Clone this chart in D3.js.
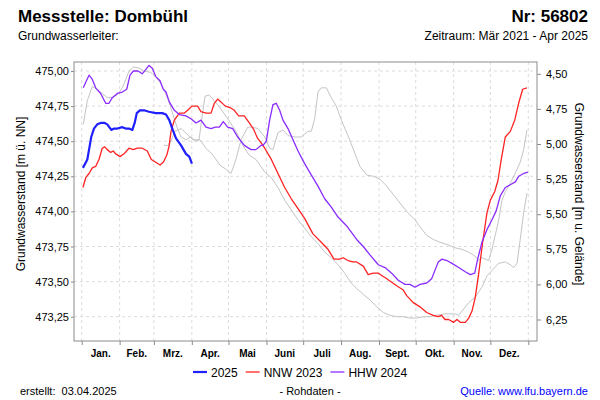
<!DOCTYPE html>
<html><head><meta charset="utf-8">
<script src="https://cdn.jsdelivr.net/npm/d3@7"></script>
<style>
html,body{margin:0;padding:0;background:#fff;}
svg{display:block;font-family:"Liberation Sans",Arial,sans-serif;}
</style></head>
<body><svg id="c" width="600" height="400"></svg>
<script>
// ---------- data ----------
const months = ["Jan.","Feb.","Mrz.","Apr.","Mai","Juni","Juli","Aug.","Sept.","Okt.","Nov.","Dez."];
const leftTicks = [473.25,473.50,473.75,474.00,474.25,474.50,474.75,475.00];
const rightTicks = [4.50,4.75,5.00,5.25,5.50,5.75,6.00,6.25];
const groundLevel = 479.48; // m ü. NN
// [day of year (0 = 1 Jan), level m ü. NN]
const s2025 = [[1,474.31],[4.6,474.37],[6,474.44],[7.8,474.53],[10,474.59],[12.7,474.62],[15.5,474.63],[18.8,474.63],[20.9,474.62],[24.2,474.58],[26.4,474.59],[29.1,474.59],[33.2,474.60],[36,474.59],[38.7,474.59],[41.4,474.58],[43.3,474.63],[45,474.70],[47.6,474.72],[50.9,474.72],[55,474.71],[60.5,474.70],[65.9,474.70],[68.9,474.69],[71.6,474.65],[74.4,474.58],[77.1,474.52],[81.2,474.47],[85.2,474.41],[87.9,474.39],[90.1,474.34]];
const nnw2023 = [[1,474.17],[3.3,474.24],[6,474.27],[8.7,474.31],[11.4,474.32],[14.1,474.37],[16.8,474.45],[18.8,474.46],[20.9,474.44],[23.7,474.42],[25.8,474.43],[27.8,474.41],[31.3,474.39],[34.6,474.41],[38.7,474.45],[42.2,474.44],[45.4,474.45],[49.5,474.45],[53.6,474.43],[56.9,474.37],[60.5,474.35],[64,474.33],[66.7,474.35],[69.5,474.40],[71.3,474.46],[73,474.57],[75.7,474.65],[79.8,474.70],[83.9,474.70],[86.6,474.72],[90.1,474.75],[94.8,474.75],[97.5,474.71],[101.6,474.70],[105.7,474.70],[108.4,474.77],[111.1,474.80],[113.8,474.78],[117.4,474.75],[121.2,474.74],[124.7,474.72],[128.3,474.68],[132.9,474.68],[137,474.63],[140.2,474.59],[143.8,474.52],[146.5,474.49],[149.6,474.45],[155,474.37],[160.4,474.27],[165.9,474.17],[171.3,474.09],[176.8,474.02],[182.2,473.95],[189,473.84],[195.8,473.78],[201.3,473.73],[206.2,473.66],[210.9,473.66],[213.6,473.67],[217.6,473.65],[221.7,473.64],[224.7,473.64],[230.1,473.61],[234.2,473.55],[238.3,473.56],[242.4,473.56],[249.3,473.52],[257.4,473.47],[262.8,473.44],[265.6,473.40],[271,473.35],[276.5,473.32],[282,473.28],[287.3,473.26],[291.4,473.25],[294.2,473.26],[296.9,473.23],[299.9,473.23],[304,473.21],[306.7,473.23],[309.4,473.21],[313.5,473.21],[316.3,473.24],[319,473.29],[321.7,473.39],[324.5,473.56],[327.7,473.78],[331.2,473.99],[334,474.08],[337.5,474.14],[340.2,474.22],[342.9,474.37],[346.2,474.53],[350.3,474.57],[353.9,474.65],[357.1,474.77],[360.4,474.87],[363.9,474.88]];
const hhw2024 = [[1.3,474.88],[3.3,474.92],[6,474.97],[8.7,474.94],[11.4,474.88],[15.5,474.84],[19.6,474.77],[22.3,474.77],[25,474.81],[29.1,474.84],[33.2,474.85],[36.8,474.87],[39.5,474.97],[42.2,475.00],[46,475.00],[49.5,474.98],[52.3,475.01],[55,475.04],[57.7,475.02],[60.5,474.96],[64,474.93],[66.7,474.87],[68.9,474.85],[71.6,474.78],[75.7,474.72],[79.8,474.69],[85.2,474.68],[89.3,474.66],[93.4,474.63],[97.5,474.65],[101.6,474.60],[105.7,474.59],[109.2,474.60],[112.5,474.60],[115.7,474.64],[119.3,474.60],[123.4,474.59],[127.5,474.53],[132.9,474.47],[138.4,474.44],[142.4,474.44],[146.5,474.47],[148.2,474.47],[150.9,474.50],[153.6,474.65],[156.3,474.76],[159,474.77],[161.8,474.72],[164.5,474.65],[168.6,474.59],[172.7,474.51],[176.8,474.43],[182.2,474.34],[187.6,474.26],[193.1,474.18],[198.6,474.09],[204,474.03],[209.5,473.96],[216.2,473.90],[220.5,473.85],[224.7,473.80],[230.1,473.75],[235.6,473.69],[242.4,473.62],[247.9,473.60],[253.3,473.56],[258.7,473.51],[264.2,473.48],[268.3,473.48],[272.4,473.46],[276.5,473.48],[282,473.49],[286,473.52],[288.7,473.58],[291.4,473.64],[294.5,473.66],[298.5,473.65],[302.6,473.63],[308.1,473.60],[313.5,473.57],[317.6,473.55],[321.2,473.56],[323.9,473.67],[327.1,473.78],[331.2,473.87],[335.3,473.94],[338.6,474.00],[342.1,474.11],[346.2,474.17],[350.3,474.19],[354.4,474.21],[357.1,474.25],[361.2,474.27],[364.7,474.28]];
const gray2022 = [[1.3,474.62],[4.6,474.79],[8.7,474.89],[12.7,474.87],[16.8,474.84],[20.9,474.81],[25,474.81],[29.1,474.83],[33.2,474.88],[36,474.94],[38.7,475.00],[42.7,475.03],[46.8,475.02],[50.9,475.00],[56.4,474.99],[60.5,474.96],[64.6,474.91],[68.6,474.84],[71.3,474.78],[74.6,474.69],[77.9,474.60],[81.2,474.53],[85.2,474.51],[89.3,474.53],[93.4,474.50],[96.7,474.51],[101.6,474.45],[107.3,474.40],[113,474.33],[117.9,474.30],[122,474.27],[126.1,474.37],[130.2,474.51],[135.7,474.60],[139.2,474.60],[144.1,474.59],[149.6,474.53],[153.6,474.45],[156.3,474.44],[160.4,474.56],[164.5,474.58],[168.6,474.54],[174.1,474.53],[179.5,474.53],[184.9,474.57],[187.6,474.57],[190.4,474.66],[193.1,474.85],[195.8,474.88],[199.9,474.88],[204,474.81],[208.1,474.75],[212.2,474.65],[217.6,474.54],[223.4,474.41],[227.4,474.32],[232.9,474.26],[238.3,474.25],[243.8,474.23],[249.3,474.18],[254.7,474.12],[260.1,474.06],[265.6,474.00],[272.4,473.94],[276.5,473.89],[282,473.83],[287.3,473.80],[292.8,473.78],[299.9,473.76],[305.3,473.74],[310.8,473.73],[316.3,473.71],[321.7,473.68],[324.5,473.65],[327.1,473.67],[332.6,473.65],[335.3,473.73],[338,473.83],[340.8,473.94],[343.5,474.08],[346.2,474.14],[349,474.18],[353.1,474.25],[355.8,474.30],[358.4,474.35],[361.2,474.44],[363.9,474.58]];
const gray2021 = [[67.3,474.47],[71.3,474.47],[76.2,474.57],[81.2,474.59],[86.1,474.55],[91,474.51],[95.9,474.51],[98.3,474.67],[100.8,474.82],[104,474.83],[107.3,474.80],[113.8,474.73],[119.3,474.66],[126.1,474.57],[131.6,474.47],[137,474.40],[142.4,474.37],[146.5,474.32],[149.6,474.28],[155,474.24],[160.4,474.17],[165.9,474.08],[171.3,474.01],[176.8,473.94],[182.2,473.88],[187.6,473.82],[193.1,473.77],[198.6,473.71],[204,473.67],[209.5,473.62],[214.9,473.56],[220.3,473.49],[224.7,473.45],[230.1,473.41],[235.6,473.37],[241.1,473.32],[246.5,473.28],[252,473.26],[257.4,473.25],[262.8,473.25],[268.3,473.24],[273.8,473.24],[279.2,473.25],[284.7,473.25],[290.1,473.26],[296.9,473.27],[305.3,473.27],[308.1,473.26],[310.8,473.29],[316.3,473.35],[321.7,473.39],[327.1,473.46],[331.2,473.54],[335.3,473.58],[340.8,473.63],[346.2,473.64],[350.3,473.62],[353.1,473.60],[355.8,473.63],[358.4,473.80],[361.2,473.99],[363.9,474.13]];

// ---------- chart ----------
const svg = d3.select("#c");
const plot = {left:74, right:537, top:62, bottom:341};
const day0 = Date.UTC(2023,0,1);
const toDate = d => new Date(day0 + d*864e5);
const x = d3.scaleUtc().domain([new Date(day0), new Date(Date.UTC(2024,0,1))]).range([81.7, 528.3]);
const y = d3.scaleLinear().domain([473.25, 475.00]).range([316.7, 71]);
const yR = d3.scaleLinear().domain([groundLevel-473.25, groundLevel-475.00]).range([y(473.25), y(475.00)]);
const de = d3.formatLocale({decimal:",", thousands:".", grouping:[3], currency:["","€"]});
const fmt = de.format(".2f");
const font = '"Liberation Sans",Arial,sans-serif';

svg.append("rect").attr("width",600).attr("height",400).attr("fill","#fff");

// gridlines
const monthStarts = d3.utcMonth.range(new Date(day0), new Date(Date.UTC(2024,0,2)));
svg.append("g").selectAll("line").data(monthStarts).join("line")
  .attr("x1",d=>x(d)).attr("x2",d=>x(d)).attr("y1",plot.top).attr("y2",plot.bottom)
  .attr("stroke","#dcdcdc").attr("stroke-dasharray","3,3");
svg.append("g").selectAll("line").data(leftTicks).join("line")
  .attr("x1",plot.left).attr("x2",plot.right).attr("y1",d=>y(d)).attr("y2",d=>y(d))
  .attr("stroke","#dcdcdc").attr("stroke-dasharray","3,3");

// frame
svg.append("rect").attr("x",plot.left).attr("y",plot.top)
  .attr("width",plot.right-plot.left).attr("height",plot.bottom-plot.top)
  .attr("fill","none").attr("stroke","#8c8c8c").attr("stroke-width",1);

// axes
const axL = svg.append("g").attr("transform",`translate(${plot.left},0)`)
  .call(d3.axisLeft(y).tickValues(leftTicks).tickFormat(fmt).tickSize(3).tickPadding(2));
const axR = svg.append("g").attr("transform",`translate(${plot.right},0)`)
  .call(d3.axisRight(yR).tickValues(rightTicks).tickFormat(fmt).tickSize(4).tickPadding(5));
const axB = svg.append("g").attr("transform",`translate(0,${plot.bottom})`)
  .call(d3.axisBottom(x).tickValues(monthStarts).tickFormat("").tickSize(4));
[axL,axR,axB].forEach(a=>{
  a.select(".domain").remove();
  a.selectAll(".tick line").attr("stroke","#8c8c8c");
  a.selectAll("text").attr("font-family",font).attr("font-size",11).attr("fill","#000");
});
// month labels in middle of months
svg.append("g").selectAll("text").data(monthStarts.slice(0,12)).join("text")
  .attr("x",(d,i)=>(x(d)+x(monthStarts[i+1]))/2).attr("y",357)
  .attr("text-anchor","middle").attr("font-family",font).attr("font-size",10).attr("font-weight","bold")
  .text((d,i)=>months[i]);

// axis titles
svg.append("text").attr("transform","translate(25,194) rotate(-90)").attr("text-anchor","middle")
  .attr("font-family",font).attr("font-size",12).text("Grundwasserstand [m ü. NN]");
svg.append("text").attr("transform","translate(575,194) rotate(90)").attr("text-anchor","middle")
  .attr("font-family",font).attr("font-size",12).text("Grundwasserstand [m u. Gelände]");

// lines
const line = d3.line().x(d=>x(toDate(d[0]))).y(d=>y(d[1]));
const series = [
  {data:gray2021,color:"#c4c4c4",w:1},
  {data:gray2022,color:"#c4c4c4",w:1},
  {data:nnw2023,color:"#ff2222",w:1.3},
  {data:hhw2024,color:"#8a2cff",w:1.3},
  {data:s2025,color:"#1f1fff",w:2.2}
];
svg.append("g").selectAll("path").data(series).join("path")
  .attr("d",d=>line(d.data)).attr("fill","none").attr("stroke",d=>d.color)
  .attr("stroke-width",d=>d.w).attr("stroke-linejoin","round");

// titles
svg.append("text").attr("x",18).attr("y",22).attr("font-family",font).attr("font-size",17).attr("font-weight","bold").text("Messstelle: Dombühl");
svg.append("text").attr("x",588).attr("y",22).attr("text-anchor","end").attr("font-family",font).attr("font-size",17).attr("font-weight","bold").text("Nr: 56802");
svg.append("text").attr("x",18).attr("y",40).attr("font-family",font).attr("font-size",12).text("Grundwasserleiter:");
svg.append("text").attr("x",588).attr("y",40).attr("text-anchor","end").attr("font-family",font).attr("font-size",12).text("Zeitraum: Mär 2021 - Apr 2025");

// legend
const legend = [{t:"2025",c:"#1f1fff",w:2.2},{t:"NNW 2023",c:"#ff2222",w:1.3},{t:"HHW 2024",c:"#8a2cff",w:1.3}];
const lg = svg.append("g");
let lx = 193;
legend.forEach(l=>{
  lg.append("line").attr("x1",lx).attr("x2",lx+14).attr("y1",372).attr("y2",372).attr("stroke",l.c).attr("stroke-width",l.w);
  const t = lg.append("text").attr("x",lx+18).attr("y",377).attr("font-family",font).attr("font-size",12).text(l.t);
  lx += 18 + t.node().getComputedTextLength() + 8;
});

// footer
svg.append("text").attr("x",20).attr("y",395).attr("font-family",font).attr("font-size",11).text("erstellt:  03.04.2025").attr("xml:space","preserve");
svg.append("text").attr("x",310).attr("y",395).attr("text-anchor","middle").attr("font-family",font).attr("font-size",11).text("- Rohdaten -");
svg.append("text").attr("x",588).attr("y",395).attr("text-anchor","end").attr("font-family",font).attr("font-size",11).attr("fill","#0000ff").text("Quelle: www.lfu.bayern.de");
</script></body></html>
